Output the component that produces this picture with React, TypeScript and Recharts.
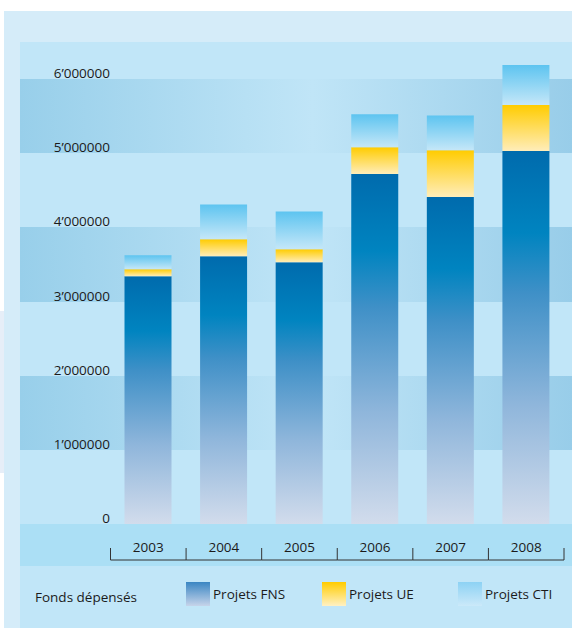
import React from 'react';
import { BarChart, Bar, XAxis, YAxis, CartesianGrid } from 'recharts';

const years = ['2003', '2004', '2005', '2006', '2007', '2008'];
const fnsValues = [3340000, 3610000, 3530000, 4720000, 4410000, 5030000];
const ueValues = [95000, 230000, 175000, 360000, 630000, 620000];
const ctiValues = [190000, 470000, 510000, 445000, 470000, 540000];
const yTicks = [0, 1000000, 2000000, 3000000, 4000000, 5000000, 6000000];
const legendTitle = 'Fonds dépensés';
const seriesInfo = [
  { key: 'fns', label: 'Projets FNS', swatch: 'linear-gradient(#3a86c3, #c6d4ea)' },
  { key: 'ue', label: 'Projets UE', swatch: 'linear-gradient(#ffcc00, #fff1c4)' },
  { key: 'cti', label: 'Projets CTI', swatch: 'linear-gradient(#8dd2f4, #cbe9f9)' },
];

const data = years.map((year, i) => ({
  year,
  fns: fnsValues[i],
  ue: ueValues[i],
  cti: ctiValues[i],
}));

const W = 572;
const H = 629;
const FONT = '"Open Sans", "Noto Sans", sans-serif';
const TEXT_COLOR = '#1b1b1b';
const LABEL_RIGHT = 110;

const formatTick = (v: number) =>
  v === 0 ? '0' : `${Math.floor(v / 1000000)}\u2019${String(v % 1000000).padStart(6, '0')}`;

const YTick = (props: any) => {
  const { y, payload } = props;
  return (
    <text
      x={LABEL_RIGHT}
      y={y - 1}
      textAnchor="end"
      fontFamily={FONT}
      fontSize={13.5}
      fill={TEXT_COLOR}
    >
      {formatTick(payload.value)}
    </text>
  );
};

const XTick = (props: any) => {
  const { x, y, payload, index, visibleTicksCount } = props;
  const half = typeof payload.offset === 'number' && payload.offset > 0 ? payload.offset : 37.8;
  const left = x - half;
  const right = x + half;
  const lineY = y + 36;
  return (
    <g>
      <text
        x={x}
        y={y + 28}
        textAnchor="middle"
        fontFamily={FONT}
        fontSize={13.5}
        fill={TEXT_COLOR}
      >
        {payload.value}
      </text>
      <line x1={left} y1={lineY} x2={right} y2={lineY} stroke="#333" strokeWidth={1} />
      <line x1={left} y1={y + 24} x2={left} y2={lineY} stroke="#333" strokeWidth={1} />
      {index === visibleTicksCount - 1 && (
        <line x1={right} y1={y + 24} x2={right} y2={lineY} stroke="#333" strokeWidth={1} />
      )}
    </g>
  );
};

export default function App() {
  return (
    <div style={{ position: 'absolute', left: 0, top: 0, width: W, height: H, background: '#fff', overflow: 'hidden' }}>
      <div style={{ position: 'absolute', left: 0, top: 311, width: 4, height: 162, background: '#e6eef8' }} />
      <div style={{ position: 'absolute', left: 4, top: 11, width: W - 4, height: 617, background: '#d5ecf9' }} />
      <div style={{ position: 'absolute', left: 20, top: 42, width: W - 20, height: 586, background: '#c1e6f8' }} />
      <div style={{ position: 'absolute', left: 20, top: 524, width: W - 20, height: 42, background: '#abdff5' }} />
      <div style={{ position: 'absolute', left: 0, top: 0 }}>
        <BarChart
          width={W}
          height={H}
          data={data}
          margin={{ top: 42, right: 0, bottom: 65, left: 19 }}
        >
          <defs>
            <linearGradient id="fnsGrad" x1="0" y1="0" x2="0" y2="1">
              <stop offset="0" stopColor="#006bad" />
              <stop offset="0.22" stopColor="#0084c0" />
              <stop offset="0.38" stopColor="#3f90c7" />
              <stop offset="0.68" stopColor="#8fb6db" />
              <stop offset="1" stopColor="#d2dcec" />
            </linearGradient>
            <linearGradient id="ueGrad" x1="0" y1="0" x2="0" y2="1">
              <stop offset="0" stopColor="#ffcc00" />
              <stop offset="1" stopColor="#ffedba" />
            </linearGradient>
            <linearGradient id="ctiGrad" x1="0" y1="0" x2="0" y2="1">
              <stop offset="0" stopColor="#5dc4f0" />
              <stop offset="1" stopColor="#c5e7f8" />
            </linearGradient>
            <linearGradient id="bandGrad" x1="0" y1="0" x2="1" y2="0">
              <stop offset="0" stopColor="#98cfea" />
              <stop offset="0.53" stopColor="#c0e5f7" />
              <stop offset="1" stopColor="#98cde9" />
            </linearGradient>
          </defs>
          <CartesianGrid
            vertical={false}
            horizontal
            stroke="transparent"
            horizontalFill={['transparent', 'url(#bandGrad)']}
            fillOpacity={1}
          />
          <XAxis
            dataKey="year"
            padding={{ left: 90.5, right: 8 }}
            axisLine={false}
            tickLine={false}
            tickSize={0}
            tickMargin={0}
            height={40}
            interval={0}
            tick={<XTick />}
          />
          <YAxis
            type="number"
            domain={[0, 6500000]}
            ticks={yTicks}
            width={1}
            axisLine={false}
            tickLine={false}
            interval={0}
            tick={<YTick />}
            allowDataOverflow
          />
          <Bar dataKey="fns" stackId="s" fill="url(#fnsGrad)" barSize={47} isAnimationActive={false} />
          <Bar dataKey="ue" stackId="s" fill="url(#ueGrad)" barSize={47} isAnimationActive={false} />
          <Bar dataKey="cti" stackId="s" fill="url(#ctiGrad)" barSize={47} isAnimationActive={false} />
        </BarChart>
      </div>
      <div
        style={{
          position: 'absolute',
          left: 35,
          top: 587,
          fontFamily: FONT,
          fontSize: 13.5,
          color: TEXT_COLOR,
          lineHeight: '20px',
          whiteSpace: 'nowrap',
        }}
      >
        {legendTitle}
      </div>
      {seriesInfo.map((s, i) => (
        <div
          key={s.key}
          style={{
            position: 'absolute',
            left: 186 + i * 136,
            top: 582,
            display: 'flex',
            alignItems: 'center',
            fontFamily: FONT,
            fontSize: 13.5,
            color: TEXT_COLOR,
            whiteSpace: 'nowrap',
          }}
        >
          <div style={{ width: 24, height: 24, background: s.swatch, marginRight: 3 }} />
          <span style={{ lineHeight: '20px' }}>{s.label}</span>
        </div>
      ))}
    </div>
  );
}
